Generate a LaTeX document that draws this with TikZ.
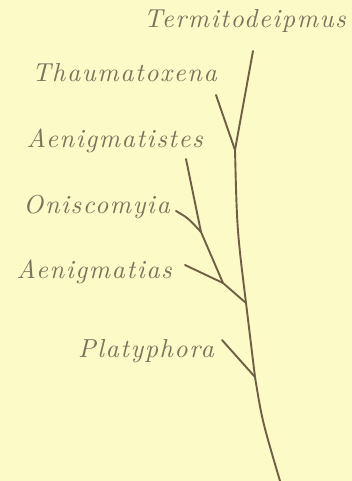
\documentclass[tikz,border=0pt]{standalone}
\usepackage{fontspec}
\usepackage{xcolor}
\usepackage{tikz}
\usetikzlibrary{positioning}
\newfontfamily\taxfont{lmroman10-italic}[Extension=.otf,LetterSpace=6]
\definecolor{paper}{HTML}{FCFAC6}
\definecolor{twig}{HTML}{6F5F45}
\definecolor{inkl}{HTML}{7D725C}
\tikzset{
  taxon/.style={font=\taxfont\fontsize{26}{28}\selectfont, text=inkl,
                inner sep=0pt, anchor=base east},
  br/.style={draw=twig, line width=1.9pt, line cap=round, line join=round}
}

\begin{document}
\begin{tikzpicture}[x=1pt,y=-1pt]
  \fill[paper] (0,0) rectangle (352,481);
  \useasboundingbox (0,0) rectangle (352,481);

  % taxon names
  \node[taxon] (ter)  at (346,28)  {Termitodeipmus};
  \node[taxon] (thau) at (217,82)  {Thaumatoxena};
  \node[taxon] (aens) at (203,148) {Aenigmatistes};
  \node[taxon] (oni)  at (170,213) {Oniscomyia};
  \node[taxon] (aena) at (172,278) {Aenigmatias};
  \node[taxon] (plat) at (214,357) {Platyphora};

  % branch tips and forks
  \coordinate (tTer)  at (253,51);
  \coordinate (tThau) at (216,95);
  \coordinate (tAenS) at (186,159);
  \coordinate (tOni)  at (176,211);
  \coordinate (tAenA) at (185,265);
  \coordinate (tPlat) at (222,340);
  \coordinate (jThau) at (235,150);
  \coordinate (jOni)  at (201,232);
  \coordinate (jAenA) at (223,283);
  \coordinate (jSide) at (246,303);
  \coordinate (jPlat) at (255,377);
  \coordinate (root)  at (280,481);

  % trunk
  \draw[br] (tTer) -- (jThau) .. controls (237,230) .. (jSide) -- (jPlat)
            .. controls (262,420) .. (root);
  % side limb
  \draw[br] (tAenS) -- (jOni) -- (jAenA) -- (jSide);
  \draw[br] (tOni) .. controls (188,218) .. (jOni);
  \foreach \a/\b in {tThau/jThau,tAenA/jAenA,tPlat/jPlat}
     \draw[br] (\a) -- (\b);
\end{tikzpicture}
\end{document}
